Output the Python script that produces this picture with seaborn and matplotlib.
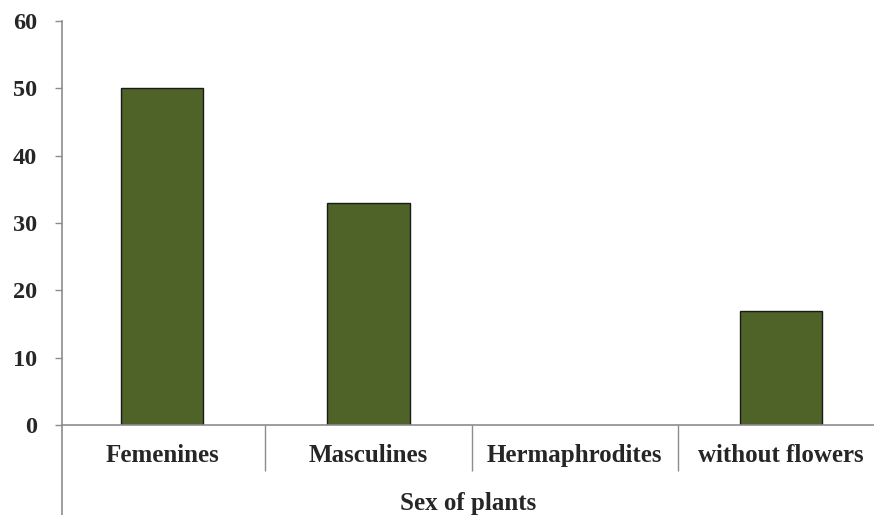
import matplotlib
matplotlib.use("Agg")
import matplotlib.pyplot as plt
import seaborn as sns
import pandas as pd

# data
categories = ["Femenines", "Masculines", "Hermaphrodites", "without flowers"]
counts = [50, 33, 0, 17]
y_ticks = [0, 10, 20, 30, 40, 50, 60]

df = pd.DataFrame({"sex": categories, "count": counts})

sns.set_style("white")
plt.rcParams["font.family"] = ["Liberation Serif", "DejaVu Serif"]
plt.rcParams["font.weight"] = "bold"

axis_grey = "#8c8c8c"
bar_color = "#4f6228"

fig = plt.figure(figsize=(8.74, 5.15), dpi=100)
ax = fig.add_axes([62 / 874, 90 / 515, 812 / 874, 404 / 515])

sns.barplot(data=df, x="sex", y="count", color=bar_color, width=0.40,
            edgecolor="#1a1a1a", linewidth=1.0, saturation=1, ax=ax)

# no outline for an empty bar
for p in ax.patches:
    if p.get_height() == 0:
        p.set_linewidth(0)

x_left = -0.485
ax.set_ylim(0, 60)
ax.set_xlim(x_left, 3.45)
ax.set_yticks(y_ticks)
ax.set_yticklabels([str(t) for t in y_ticks], fontsize=17.5, fontweight="bold")
ax.tick_params(axis="y", direction="out", length=5, width=1, color=axis_grey,
               pad=13, left=True)

# category labels, with separators between them as long minor ticks
ax.set_xticks(range(len(categories)))
ax.set_xticklabels(categories, fontsize=18, fontweight="bold")
ax.tick_params(axis="x", which="major", length=0, pad=14)
ax.set_xticks([i + 0.5 for i in range(len(categories) - 1)], minor=True)
ax.tick_params(axis="x", which="minor", direction="out", length=33,
               width=1, color=axis_grey, bottom=True)

for side in ["top", "right"]:
    ax.spines[side].set_visible(False)
for side in ["left", "bottom"]:
    ax.spines[side].set_color(axis_grey)
    ax.spines[side].set_linewidth(1.2)

# left axis line runs on below the category row
ax.axvline(x_left, ymin=-0.23, ymax=0, color=axis_grey, lw=1.2, clip_on=False)

ax.set_xlabel("Sex of plants", fontsize=18, fontweight="bold", labelpad=12)
ax.set_ylabel("")

fig.savefig("out.png", dpi=100)
